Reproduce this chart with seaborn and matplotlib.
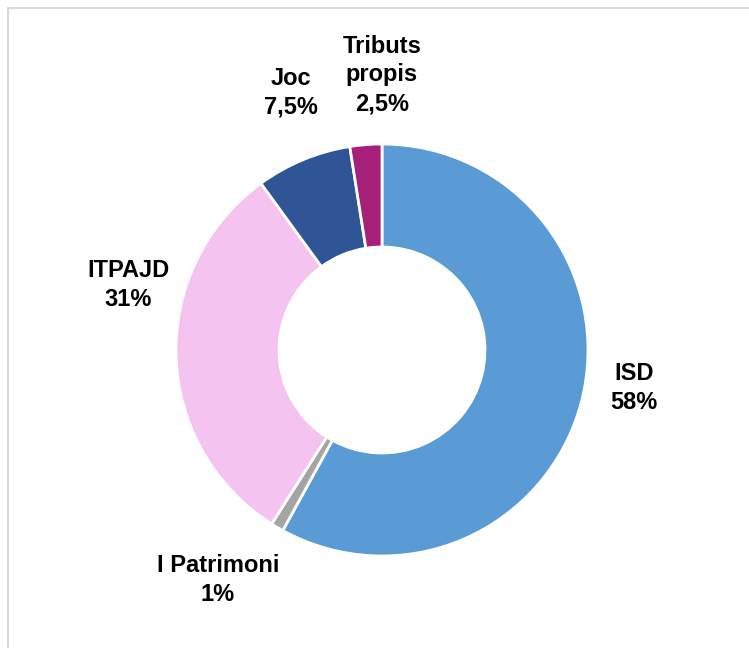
import matplotlib.pyplot as plt
import seaborn as sns
from matplotlib.patches import Rectangle

# Data
categories = ["ISD", "I Patrimoni", "ITPAJD", "Joc", "Tributs\npropis"]
shares = [58, 1, 31, 7.5, 2.5]
share_labels = ["58%", "1%", "31%", "7,5%", "2,5%"]
colors = ["#5B9BD5", "#A5A5A5", "#F4C3EF", "#2F5597", "#A6207A"]

# label anchor points (data units, radius of the ring = 1)
label_xy = [(1.223, -0.184), (-0.796, -1.117), (-1.233, 0.316), (-0.442, 1.248), (0.0, 1.335)]

sns.set_theme(style="white")
plt.rcParams["font.family"] = ["Liberation Sans", "DejaVu Sans"]

fig = plt.figure(figsize=(7.49, 6.48), dpi=100)
ax = fig.add_axes([0, 0, 1, 1])

ax.pie(shares, colors=sns.color_palette(colors), startangle=90, counterclock=False,
       radius=1.0, wedgeprops=dict(width=0.5, edgecolor="white", linewidth=2))

for name, lab, (x, y) in zip(categories, share_labels, label_xy):
    ax.text(x, y, f"{name}\n{lab}", ha="center", va="center", fontsize=17,
            fontweight="bold", color="black", linespacing=1.32)

# place the ring centre at (382, 350) px with radius 206 px
ax.set_xlim(-382 / 206, (749 - 382) / 206)
ax.set_ylim(-(648 - 350) / 206, 350 / 206)
ax.set_aspect("auto")
ax.axis("off")

# light frame (top and left edges visible)
fig.add_artist(Rectangle((7.5 / 749, -0.1), 2, (648 - 7.5) / 648 + 0.1,
                         transform=fig.transFigure, fill=False,
                         edgecolor="#D9D9D9", linewidth=1.5))

fig.savefig("out.png", dpi=100, facecolor="white")
